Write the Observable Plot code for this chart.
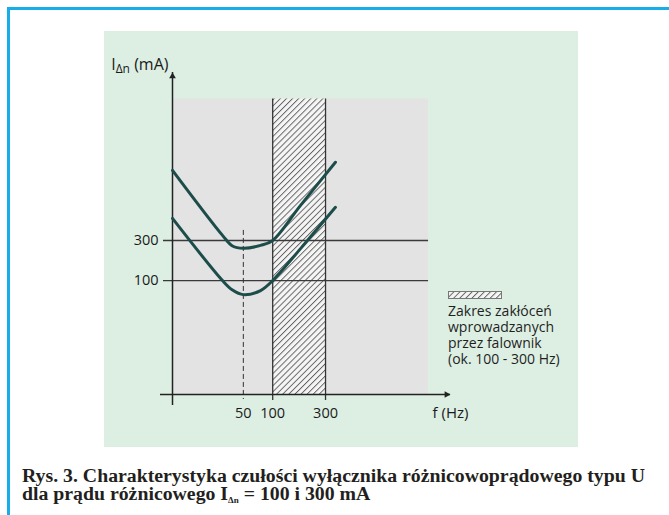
<!DOCTYPE html>
<html><head><meta charset="utf-8">
<script src="https://cdn.jsdelivr.net/npm/d3@7"></script>
<script src="https://cdn.jsdelivr.net/npm/@observablehq/plot@0.6"></script>
<style>
html,body{margin:0;padding:0;background:#fff;width:669px;height:515px;overflow:hidden;position:relative;}
#frame{position:absolute;left:7px;top:7px;width:720px;height:620px;border-left:3px solid #16ade8;border-top:3px solid #16ade8;}
#panel{position:absolute;left:104px;top:31px;width:474px;height:416px;background:#ddefe3;}
#legend{position:absolute;left:448px;top:291px;font-family:"Open Sans",sans-serif;font-size:14px;color:#1f1f1f;line-height:16px;}
#legend .sw{display:block;margin-bottom:4px;}
#caption{position:absolute;left:22px;top:466px;font-family:"Liberation Serif",serif;font-weight:bold;font-size:19.8px;line-height:18px;color:#231f20;white-space:nowrap;}
#caption sub{font-size:9px;vertical-align:-3px;line-height:0;}
</style></head>
<body>
<div id="frame"></div>
<div id="panel"></div>
<div id="legend"></div>
<div id="caption"></div>
<script>
// ---- data ----
const freqHz = [0, 28, 37.5, 50, 76, 100, 181, 365];           // frequency f (Hz)
const curve300 = [2050, 345, 258, 242, 262, 300, 785, 2560];   // I∆n = 300 mA characteristic
const curve100 = [550, 100, 77, 68, 76, 100, 240, 745];        // I∆n = 100 mA characteristic
const xTicks = [50, 100, 300];
const yTicks = [100, 300];
const refLevels = [100, 300];          // horizontal reference lines (mA)
const bandHz = [100, 300];             // inverter interference range
const markerHz = [50];                 // dashed line at 50 Hz
const markerTopMA = 395;
const xDomain = [0, 3300];
const yDomain = [4.4, 30000];
const areaHz = [0, 2180];              // gray plotting area extent
const areaTopMA = 14500;
const yLabel = "IΔn (mA)";
const xLabel = "f (Hz)";
const legendLines = ["Zakres zakłóceń", "wprowadzanych", "przez falownik", "(ok. 100 - 300 Hz)"];
const captionLines = ["Rys. 3. Charakterystyka czułości wyłącznika różnicowoprądowego typu U",
                      "dla prądu różnicowego I<sub>Δn</sub> = 100 i 300 mA"];

const rows = [];
freqHz.forEach((f, i) => {
  rows.push({f, i: curve300[i], s: "300"});
  rows.push({f, i: curve100[i], s: "100"});
});

const axisColor = "#222";
const curveColor = "#1d4d4b";
const textColor = "#1a1a1a";

const chart = Plot.plot({
  width: 474,
  height: 416,
  marginLeft: 68,
  marginRight: 128,
  marginTop: 41,
  marginBottom: 53,
  style: {background: "transparent", fontFamily: "'Open Sans', sans-serif", fontSize: "14.5px", color: textColor, overflow: "visible"},
  x: {type: "symlog", constant: 18, domain: xDomain, axis: null},
  y: {type: "log", domain: yDomain, axis: null},
  marks: [
    // gray plotting area
    Plot.rect([0], {x1: areaHz[0], x2: areaHz[1], y1: yDomain[0], y2: areaTopMA, fill: "#e3e3e3"}),
    // hatched band
    Plot.rect([bandHz], {x1: d => d[0], x2: d => d[1], y1: yDomain[0], y2: areaTopMA, fill: "url(#hatch)"}),
    Plot.ruleX(bandHz, {y1: areaTopMA, y2: yDomain[0], insetBottom: -6, stroke: "#333", strokeWidth: 1.3}),
    // reference levels
    Plot.ruleY(refLevels, {x1: areaHz[0], x2: areaHz[1], insetLeft: -9, stroke: "#3a3a3a", strokeWidth: 1.3}),
    // dashed 50 Hz line
    Plot.ruleX(markerHz, {y1: markerTopMA, y2: yDomain[0], insetBottom: -5, stroke: "#333", strokeWidth: 1, strokeDasharray: "5,3"}),
    // axes lines
    Plot.ruleX([0], {insetBottom: -11, stroke: axisColor, strokeWidth: 1.5}),
    Plot.ruleY([yDomain[0]], {insetLeft: -12, stroke: axisColor, strokeWidth: 1.5}),
    Plot.dot([0], {x: 0, y: yDomain[1], symbol: "triangle", r: 2.5, fill: axisColor, dy: 3.9}),
    Plot.dot([0], {x: xDomain[1], y: yDomain[0], symbol: "triangle", r: 2.5, fill: axisColor, rotate: 90, dx: -3.9}),
    // curves
    Plot.line(rows, {x: "f", y: "i", z: "s", curve: "catmull-rom", stroke: curveColor, strokeWidth: 3}),
    // tick labels
    Plot.text(xTicks, {x: d => d, y: yDomain[0], text: d => String(d), dy: 19, textAnchor: "middle", fill: textColor, fontWeight: 500}),
    Plot.text(yTicks, {x: 0, y: d => d, text: d => String(d), dx: -14, textAnchor: "end", fill: textColor, fontWeight: 500}),
    Plot.text([xLabel], {x: xDomain[1], y: yDomain[0], text: d => d, dy: 19, textAnchor: "middle", fill: textColor, fontSize: 15, fontWeight: 500}),
    Plot.text([yLabel], {x: 0, y: yDomain[1], text: d => d, dx: -4, dy: -8, textAnchor: "end", fill: textColor, fontSize: 16, fontWeight: 500})
  ]
});

// hatch pattern
const ns = "http://www.w3.org/2000/svg";
function hatchDefs(id) {
  const defs = document.createElementNS(ns, "defs");
  defs.innerHTML = `<pattern id="${id}" patternUnits="userSpaceOnUse" width="4.3" height="4.3" patternTransform="rotate(45)">
    <rect width="4.3" height="4.3" fill="#f5f5f5"/>
    <line x1="0.5" y1="0" x2="0.5" y2="4.3" stroke="#5a5a5a" stroke-width="0.9"/></pattern>`;
  return defs;
}
chart.insertBefore(hatchDefs("hatch"), chart.firstChild);

// subscript in y label
d3.select(chart).selectAll("text").filter(function(){ return this.textContent === yLabel; })
  .each(function(){
    this.innerHTML = `I<tspan font-size="12px" dy="3">Δn</tspan><tspan dy="-3"> (mA)</tspan>`;
  });

const panel = document.getElementById("panel");
panel.appendChild(chart);

// legend
const legend = document.getElementById("legend");
const sw = document.createElementNS(ns, "svg");
sw.setAttribute("width", 54); sw.setAttribute("height", 8); sw.setAttribute("class", "sw");
sw.appendChild(hatchDefs("hatchL"));
const r = document.createElementNS(ns, "rect");
r.setAttribute("x", 0.5); r.setAttribute("y", 0.5); r.setAttribute("width", 53); r.setAttribute("height", 7);
r.setAttribute("fill", "url(#hatchL)"); r.setAttribute("stroke", "#777"); r.setAttribute("stroke-width", 1);
sw.appendChild(r);
legend.appendChild(sw);
legendLines.forEach(t => { const d = document.createElement("div"); d.textContent = t; legend.appendChild(d); });

// caption
document.getElementById("caption").innerHTML = captionLines.join("<br>");
</script>
</body></html>
